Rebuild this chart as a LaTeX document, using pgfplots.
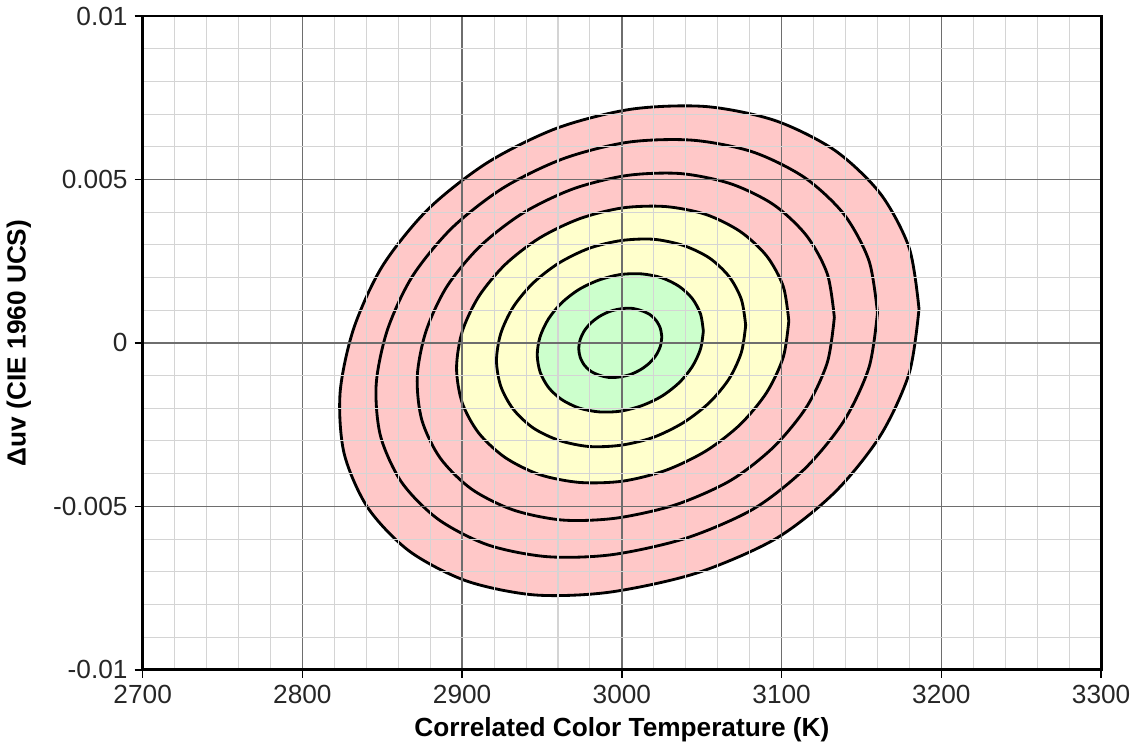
\documentclass[border=0pt]{standalone}
\usepackage{fontspec}
\setmainfont{Liberation Sans}
\usepackage{pgfplots}
\pgfplotsset{compat=1.18}
\definecolor{pinkfill}{RGB}{255,200,200}
\definecolor{yellowfill}{RGB}{255,255,204}
\definecolor{greenfill}{RGB}{204,255,204}
\definecolor{majgrid}{RGB}{110,110,110}
\definecolor{mingrid}{RGB}{212,212,212}
\begin{document}
\begin{tikzpicture}
\begin{axis}[
    scale only axis,
    width=475pt, height=324pt,
    xmin=2700, xmax=3300,
    ymin=-0.01, ymax=0.01,
    scaled y ticks=false,
    xtick={2700,2800,2900,3000,3100,3200,3300},
    xticklabels={2700,2800,2900,3000,3100,3200,3300},
    ytick={-0.01,-0.005,0,0.005,0.01},
    yticklabels={-0.01,-0.005,0,0.005,0.01},
    minor x tick num=4,
    minor y tick num=4,
    grid=both,
    major grid style={majgrid, line width=0.7pt},
    minor grid style={mingrid, line width=0.5pt},
    axis line style={black, line width=1.4pt},
    tick align=outside,
    xtick pos=bottom, ytick pos=left,
    major tick length=4pt, minor tick length=0pt,
    tick style={black, line width=0.8pt},
    tick label style={font=\fontsize{13}{15}\selectfont, text=black!85},
    label style={font=\fontsize{13}{15}\selectfont\bfseries},
    xlabel={Correlated Color Temperature (K)},
    ylabel={Δuv (CIE 1960 UCS)},
    ylabel style={yshift=4pt},
    axis on top,
]
% n = 7 (outer, pink)
\addplot[smooth, line width=1.4pt, draw=black, fill=pinkfill] coordinates {
(3186,0.00104)(3179.9,0.0029)(3161.9,0.00456)(3133.3,0.00589)(3096,0.0068)(3052.6,0.00723)
(3006,0.00715)(2959.4,0.00657)(2916,0.00552)(2878.7,0.00409)(2850.1,0.00235)(2832.1,0.00044)
(2823.6,-0.00152)(2826.1,-0.00338)(2840.9,-0.00504)(2866.9,-0.00637)(2902.5,-0.00728)(2945.1,-0.00771)
(2991.8,-0.00763)(3046.3,-0.00705)(3096,-0.006)(3133.3,-0.00457)(3161.9,-0.00283)(3179.9,-0.00092)
(3186,0.00104)
};
% n = 6
\addplot[smooth, line width=1.4pt, draw=black] coordinates {
(3160,0.00092)(3154.7,0.00251)(3139.1,0.00393)(3114.3,0.00506)(3082,0.00584)(3044.4,0.0062)
(3004,0.00614)(2963.6,0.00564)(2926,0.00475)(2893.7,0.00352)(2868.9,0.00204)(2853.3,0.00041)
(2846.2,-0.00126)(2848.9,-0.00285)(2862.2,-0.00427)(2885.1,-0.0054)(2916.1,-0.00618)(2953.1,-0.00654)
(2993.7,-0.00648)(3039.8,-0.00598)(3082,-0.00509)(3114.3,-0.00386)(3139.1,-0.00238)(3154.7,-0.00075)
(3160,0.00092)
};
% n = 5
\addplot[smooth, line width=1.4pt, draw=black] coordinates {
(3133,0.00078)(3128.6,0.00211)(3115.6,0.00328)(3094.9,0.00423)(3068,0.00487)(3036.6,0.00518)
(3003,0.00512)(2969.4,0.00471)(2938,0.00397)(2911.1,0.00295)(2890.4,0.00172)(2877.4,0.00036)
(2871.9,-0.00102)(2874.7,-0.00235)(2886.2,-0.00352)(2905.8,-0.00447)(2931.9,-0.00511)(2962.9,-0.00542)
(2996.6,-0.00536)(3033.8,-0.00495)(3068,-0.00421)(3094.9,-0.00319)(3115.6,-0.00196)(3128.6,-0.0006)
(3133,0.00078)
};
% n = 4 (yellow)
\addplot[smooth, line width=1.4pt, draw=black, fill=yellowfill] coordinates {
(3104.5,0.00067)(3101,0.00173)(3090.6,0.00266)(3074,0.00341)(3052.5,0.00393)(3027.4,0.00417)
(3000.5,0.00413)(2973.6,0.0038)(2948.5,0.00321)(2927,0.0024)(2910.4,0.00142)(2900,0.00034)
(2896.5,-0.00077)(2900,-0.00183)(2910.4,-0.00276)(2927,-0.00351)(2948.5,-0.00403)(2973.6,-0.00427)
(3000.5,-0.00423)(3027.4,-0.0039)(3052.5,-0.00331)(3074,-0.0025)(3090.6,-0.00152)(3101,-0.00044)
(3104.5,0.00067)
};
% n = 3
\addplot[smooth, line width=1.4pt, draw=black] coordinates {
(3077.5,0.00054)(3074.8,0.00133)(3067.1,0.00203)(3054.7,0.0026)(3038.5,0.00298)(3019.7,0.00317)
(2999.5,0.00313)(2979.3,0.00289)(2960.5,0.00244)(2944.4,0.00183)(2932,0.0011)(2924.2,0.00029)
(2921.5,-0.00054)(2924.2,-0.00133)(2932,-0.00203)(2944.4,-0.0026)(2960.5,-0.00298)(2979.3,-0.00317)
(2999.5,-0.00313)(3019.7,-0.00289)(3038.5,-0.00244)(3054.7,-0.00183)(3067.1,-0.0011)(3074.8,-0.00029)
(3077.5,0.00054)
};
% n = 2 (green)
\addplot[smooth, line width=1.4pt, draw=black, fill=greenfill] coordinates {
(3051,0.00036)(3049.2,0.00089)(3044,0.00136)(3035.8,0.00173)(3025,0.00199)(3012.5,0.00211)
(2999,0.00209)(2985.5,0.00192)(2973,0.00163)(2962.2,0.00122)(2954,0.00073)(2948.8,0.00019)
(2947,-0.00036)(2948.8,-0.00089)(2954,-0.00136)(2962.2,-0.00173)(2973,-0.00199)(2985.5,-0.00211)
(2999,-0.00209)(3012.5,-0.00192)(3025,-0.00163)(3035.8,-0.00122)(3044,-0.00073)(3049.2,-0.00019)
(3051,0.00036)
};
% n = 1
\addplot[smooth, line width=1.4pt, draw=black] coordinates {
(3025,0.00018)(3024.1,0.00044)(3021.5,0.00068)(3017.4,0.00087)(3012,0.00099)(3005.7,0.00106)
(2999,0.00104)(2992.3,0.00096)(2986,0.00081)(2980.6,0.00061)(2976.5,0.00037)(2973.9,0.0001)
(2973,-0.00018)(2973.9,-0.00044)(2976.5,-0.00068)(2980.6,-0.00087)(2986,-0.00099)(2992.3,-0.00106)
(2999,-0.00104)(3005.7,-0.00096)(3012,-0.00081)(3017.4,-0.00061)(3021.5,-0.00037)(3024.1,-0.0001)
(3025,0.00018)
};
\end{axis}
\end{tikzpicture}
\end{document}
